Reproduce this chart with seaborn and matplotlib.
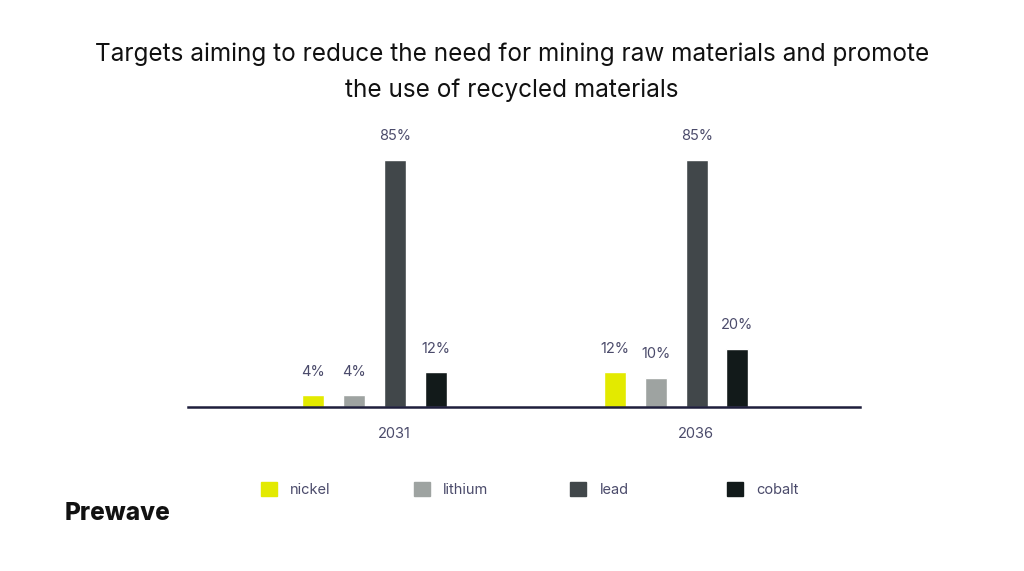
import pandas as pd
import matplotlib.pyplot as plt
import seaborn as sns

# Recycled content targets (%) by year
years = ["2031", "2036"]
materials = ["nickel", "lithium", "lead", "cobalt"]
nickel = [4, 12]
lithium = [4, 10]
lead = [85, 85]
cobalt = [12, 20]

colors = ["#e3ea00", "#9ea3a1", "#41474a", "#121a1a"]
text_color = "#4b4b6b"

df = pd.DataFrame({
    "year": years * 4,
    "material": [m for m in materials for _ in years],
    "value": nickel + lithium + lead + cobalt,
})

sns.set_theme(style="white")
plt.rcParams["font.family"] = ["Inter", "DejaVu Sans"]

fig = plt.figure(figsize=(10.24, 5.71), dpi=100)
ax = fig.add_axes([0.184, 0.287, 0.656, 0.509])

sns.barplot(data=df, x="year", y="value", hue="material", hue_order=materials,
            palette=colors, width=0.54, gap=0.46, saturation=1, ax=ax, legend=False)

for cont in ax.containers:
    ax.bar_label(cont, fmt="%g%%", padding=12, fontsize=10.5, color=text_color)

ax.set_ylim(0, 100)
ax.set_xlim(-0.616, 1.609)
ax.set_xticks([0.065, 1.065])
ax.set_xticklabels(years)
ax.tick_params(axis="x", length=0, pad=14, labelsize=10.5, labelcolor=text_color)
ax.set_yticks([])
ax.set_xlabel("")
ax.set_ylabel("")
for s in ["top", "left", "right"]:
    ax.spines[s].set_visible(False)
ax.spines["bottom"].set_color("#1e1e3c")
ax.spines["bottom"].set_linewidth(1.8)

fig.text(0.5, 0.873, "Targets aiming to reduce the need for mining raw materials and promote\nthe use of recycled materials",
         ha="center", va="center", fontsize=17.5, color="#111111", linespacing=1.7)

# one legend entry per fixed column, like the original layout
legend_x = [0.255, 0.404, 0.557, 0.710]
for name, c, x in zip(materials, colors, legend_x):
    leg = fig.legend([plt.Rectangle((0, 0), 1, 1, color=c)], [name], loc="center left",
                     bbox_to_anchor=(x, 0.143), frameon=False, fontsize=10.5,
                     handlelength=1.1, handleheight=1.1, handletextpad=0.9,
                     borderpad=0, borderaxespad=0)
    for t in leg.get_texts():
        t.set_color(text_color)

fig.text(0.063, 0.101, "Prewave", fontsize=17.5, fontweight="heavy", color="#111111",
         ha="left", va="center")

plt.savefig("out.png", dpi=100)
